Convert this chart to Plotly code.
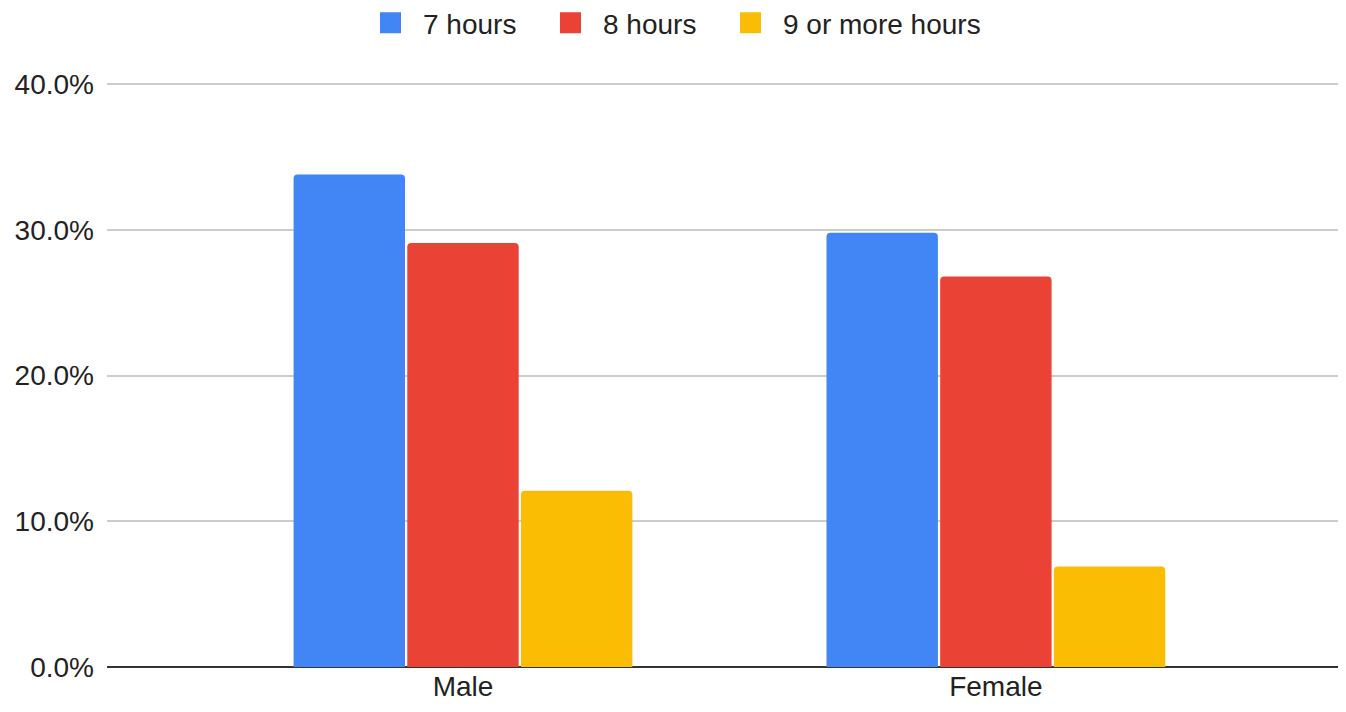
import plotly.graph_objects as go

categories = ["Male", "Female"]
series_names = ["7 hours", "8 hours", "9 or more hours"]
hours7 = [33.8, 29.8]
hours8 = [29.1, 26.8]
hours9 = [12.1, 6.9]
tick_vals = [0, 10, 20, 30, 40]
tick_text = ["0.0%", "10.0%", "20.0%", "30.0%", "40.0%"]

colors = ["#4285F4", "#EA4335", "#FBBC04"]
FONT = "Liberation Sans, Arial, sans-serif"

# page body has an 8px margin, so the figure is sized/offset to compensate
W, H = 1330, 696
legend_ids = ["legend", "legend2", "legend3"]
legend_left_px = [350, 530, 710]

fig = go.Figure()
for name, vals, c in zip(series_names, [hours7, hours8, hours9], colors):
    fig.add_trace(go.Bar(x=categories, y=vals, name=name, marker_color=c,
                         marker_line_width=0, showlegend=False))
for name, c, lid in zip(series_names, colors, legend_ids):
    fig.add_trace(go.Scatter(x=[None], y=[None], mode="markers", name=name,
                             legend=lid,
                             marker=dict(symbol="square", size=16, color=c,
                                         line=dict(width=5, color=c))))

legend_common = dict(orientation="h", xref="container", yref="container",
                     xanchor="left", y=1 - 15 / H, yanchor="middle",
                     font=dict(size=28, color="#222222"), itemwidth=55,
                     bgcolor="rgba(0,0,0,0)")

fig.update_layout(
    width=W, height=H,
    margin=dict(l=99, r=0, t=75, b=37, autoexpand=False),
    paper_bgcolor="white", plot_bgcolor="white",
    font=dict(family=FONT, size=28, color="#222222"),
    barmode="group", bargap=0.36, bargroupgap=0.02, barcornerradius=4,
    xaxis=dict(range=[-0.668, 1.642], showgrid=False, ticks="",
               showline=False, zeroline=False, tickfont=dict(size=28),
               automargin=False),
    yaxis=dict(range=[0, 40.07], tickvals=tick_vals, ticktext=tick_text,
               showgrid=True, gridcolor="#cccccc", gridwidth=1.5,
               zeroline=True, zerolinecolor="#333333", zerolinewidth=2,
               ticks="", ticklabelstandoff=12, tickfont=dict(size=28),
               automargin=False),
)
for lid, px in zip(legend_ids, legend_left_px):
    fig.update_layout({lid: dict(legend_common, x=px / W)})

fig.write_html("out.html")
